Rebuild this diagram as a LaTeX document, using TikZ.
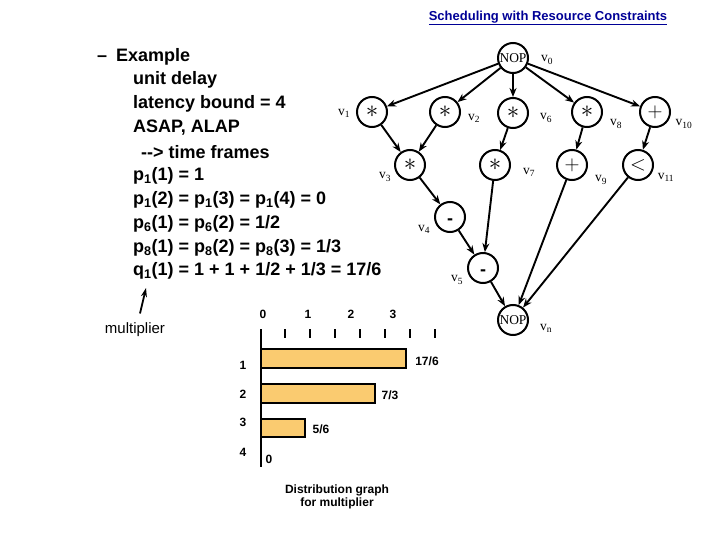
\documentclass[tikz,border=0pt]{standalone}
\usepackage{fontspec}
\setmainfont{Liberation Serif}
\setsansfont{Liberation Sans}
\usetikzlibrary{arrows.meta}
\definecolor{titleblue}{RGB}{0,0,150}
\definecolor{barfill}{RGB}{250,203,112}

\begin{document}
\begin{tikzpicture}[
    x=1pt, y=-1pt,
    op/.style={circle, draw=black, line width=2pt, minimum size=30pt, inner sep=0pt, font=\fontsize{20}{20}\selectfont},
    nop/.style={op, font=\fontsize{13.5}{14}\selectfont},
    vlab/.style={font=\fontsize{13.5}{14}\selectfont},
    arrow/.style={-{Stealth[length=9pt,width=7pt]}, line width=1.9pt},
    txt/.style={anchor=west, inner sep=0pt, font=\fontsize{18}{20}\sffamily\bfseries},
    small/.style={font=\fontsize{12}{13}\sffamily\bfseries},
    bar/.style={draw=black, line width=2pt, fill=barfill}
]
    \useasboundingbox (0,0) rectangle (720,540);

    % Title
    \node[text=titleblue, font=\fontsize{13}{14}\sffamily\bfseries] (title) at (548,18) {\underline{Scheduling with Resource Constraints}};

    % Example text
    \node[txt] (ex) at (97,57) {–\hspace{9pt}Example};
    \node[txt] (l1) at (133,80) {unit delay};
    \node[txt] (l2) at (133,104) {latency bound = 4};
    \node[txt] (l3) at (133,128) {ASAP, ALAP};
    \node[txt] (l4) at (141,152) {-{}-> time frames};
    \node[txt] (l5) at (133,176) {p\textsubscript{1}(1) = 1};
    \node[txt] (l6) at (133,200) {p\textsubscript{1}(2) = p\textsubscript{1}(3) = p\textsubscript{1}(4) = 0};
    \node[txt] (l7) at (133,224) {p\textsubscript{6}(1) = p\textsubscript{6}(2) = 1/2};
    \node[txt] (l8) at (133,248) {p\textsubscript{8}(1) = p\textsubscript{8}(2) = p\textsubscript{8}(3) = 1/3};
    \node[txt] (l9) at (133,271) {q\textsubscript{1}(1) = 1 + 1 + 1/2 + 1/3 = 17/6};

    % Multiplier pointer
    \coordinate (qtip) at (146,288);
    \node[font=\fontsize{15}{16}\sffamily] (mul) at (135,330) {multiplier};
    \draw[-{Stealth[length=9pt,width=6pt]}, line width=1.8pt] (mul.north) ++(5,-6) -- (qtip);

    % Graph nodes
    \node[nop] (v0) at (513,58) {NOP};
    \node[op] (v1) at (372,112) {\fontsize{24}{24}\selectfont$\ast$};
    \node[op] (v2) at (445,112) {\fontsize{24}{24}\selectfont$\ast$};
    \node[op] (v6) at (513,113) {\fontsize{24}{24}\selectfont$\ast$};
    \node[op] (v8) at (587,112) {\fontsize{24}{24}\selectfont$\ast$};
    \node[op] (v10) at (655,112) {$+$};
    \node[op] (v3) at (410,165) {\fontsize{24}{24}\selectfont$\ast$};
    \node[op] (v7) at (495,165) {\fontsize{24}{24}\selectfont$\ast$};
    \node[op] (v9) at (572,165) {$+$};
    \node[op] (v11) at (638,165) {$<$};
    \node[op] (v4) at (450,217) {};
    \node[op] (v5) at (483,268) {};
    \node[nop] (vn) at (513,320) {NOP};

    % minus signs
    \node[font=\fontsize{18}{18}\sffamily\bfseries] (m4) at (450,222) {-};
    \node[font=\fontsize{18}{18}\sffamily\bfseries] (m5) at (483,273) {-};

    % Node labels
    \node[vlab] (n0) at (547,60) {v\textsubscript{0}};
    \node[vlab] (n1) at (344,113) {v\textsubscript{1}};
    \node[vlab] (n2) at (474,118) {v\textsubscript{2}};
    \node[vlab] (n6) at (546,118) {v\textsubscript{6}};
    \node[vlab] (n8) at (616,124) {v\textsubscript{8}};
    \node[vlab] (n10) at (684,124) {v\textsubscript{10}};
    \node[vlab] (n3) at (385,177) {v\textsubscript{3}};
    \node[vlab] (n7) at (529,172) {v\textsubscript{7}};
    \node[vlab] (n9) at (601,180) {v\textsubscript{9}};
    \node[vlab] (n11) at (666,177) {v\textsubscript{11}};
    \node[vlab] (n4) at (424,229) {v\textsubscript{4}};
    \node[vlab] (n5) at (457,280) {v\textsubscript{5}};
    \node[vlab] (nn) at (546,328) {v\textsubscript{n}};

    % Edges
    \foreach \t in {v1,v2,v6,v8,v10}
        \draw[arrow] (v0) -- (\t);
    \draw[arrow] (v1) -- (v3);
    \draw[arrow] (v2) -- (v3);
    \draw[arrow] (v6) -- (v7);
    \draw[arrow] (v8) -- (v9);
    \draw[arrow] (v10) -- (v11);
    \draw[arrow] (v3) -- (v4);
    \draw[arrow] (v4) -- (v5);
    \draw[arrow] (v7) -- (v5);
    \draw[arrow] (v5) -- (vn);
    \draw[arrow] (v9) -- (vn);
    \draw[arrow] (v11) -- (vn);

    % Distribution graph
    \draw[line width=2pt] (261,329) -- (261,467);
    \foreach \x in {285,310,...,435}
        \draw[line width=2pt] (\x,329) -- (\x,338);
    \foreach \n/\x in {0/263,1/308,2/351,3/393}
        \node[small] (t\n) at (\x,314) {\n};
    \foreach \n/\y in {1/365,2/394,3/422,4/452}
        \node[small] (s\n) at (243,\y) {\n};

    \draw[bar] (261,349) rectangle (406,368);
    \draw[bar] (261,384) rectangle (375,403);
    \draw[bar] (261,419) rectangle (305,437);

    \node[small] (q1) at (427,361) {17/6};
    \node[small] (q2) at (390,395) {7/3};
    \node[small] (q3) at (321,429) {5/6};
    \node[small] (q4) at (269,459) {0};

    \node[small, align=center] (cap) at (337,497) {Distribution graph\\for multiplier};
\end{tikzpicture}
\end{document}
